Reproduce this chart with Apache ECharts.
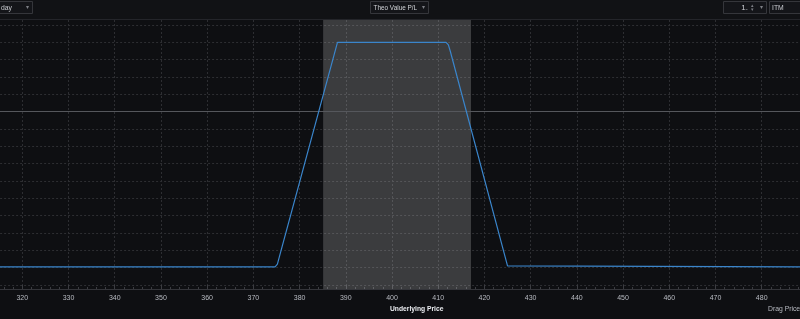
<!DOCTYPE html>
<html>
<head>
<meta charset="utf-8">
<script src="https://cdn.jsdelivr.net/npm/echarts@6/dist/echarts.min.js"></script>
<style>
html,body{margin:0;padding:0;background:#0e0f12;}
#chart{width:800px;height:319px;}
</style>
</head>
<body>
<div id="chart"></div>
<script>
// ---- data ----
var priceX   = [310, 374.7, 375.2, 376.0, 388.2, 411.7, 412.2, 412.6, 425.0, 425.3, 490];
var plValue  = [-895, -895, -880, -800, 400, 400, 385, 350, -890, -895, -895];
var bandRange = [385.1, 417.1];           // shaded (current price range) region
var xTickMin = 310, xTickMax = 490, xTickStep = 10;
var yTickMin = -1000, yTickMax = 500, yTickStep = 100;
var headerLabels = ["day", "Theo Value P/L", "1.", "ITM"];
var axisTitle = "Underlying Price";
var footNote = "Drag Prices";

var lineData = priceX.map(function (x, i) { return [x, plValue[i]]; });

var FONT = '"Liberation Sans", Arial, sans-serif';
var GRID_COLOR = '#2d2e32';

var chart = echarts.init(document.getElementById('chart'), null, {renderer: 'canvas'});

var option = {
  backgroundColor: '#0e0f12',
  animation: false,
  grid: [
    {left: -23.9, right: -7.9, top: 20, bottom: 30, containLabel: false, outerBoundsMode: 'none'},
    {left: -23.9, right: -7.9, top: 25, bottom: 34, containLabel: false, outerBoundsMode: 'none'}
  ],
  xAxis: [
    {
      type: 'value', gridIndex: 0, min: xTickMin, max: xTickMax, interval: xTickStep,
      axisLine: {show: true, lineStyle: {color: '#34353a', width: 1}},
      axisTick: {show: true, length: 4, inside: true, lineStyle: {color: '#3c3d42'}},
      minorTick: {show: true, splitNumber: 5, length: 2, lineStyle: {color: '#3c3d42'}},
      axisLabel: {show: true, color: '#b8bbc2', fontSize: 7, fontFamily: FONT, margin: 6},
      splitLine: {show: true, lineStyle: {color: GRID_COLOR, type: [2, 2], width: 1}}
    },
    {
      type: 'value', gridIndex: 1, min: xTickMin, max: xTickMax, interval: xTickStep,
      show: false
    }
  ],
  yAxis: [
    {type: 'value', gridIndex: 0, min: 0, max: 1, show: false},
    {
      type: 'value', gridIndex: 1, min: yTickMin, max: yTickMax, interval: yTickStep,
      axisLine: {show: false}, axisTick: {show: false}, axisLabel: {show: false},
      splitLine: {show: true, lineStyle: {color: GRID_COLOR, type: [2, 2], width: 1}}
    }
  ],
  series: [
    {
      type: 'line', xAxisIndex: 0, yAxisIndex: 0, data: [], silent: true,
      markArea: {
        silent: true,
        itemStyle: {color: 'rgba(255,255,255,0.19)'},
        data: [[{xAxis: bandRange[0]}, {xAxis: bandRange[1]}]]
      }
    },
    {
      type: 'line', xAxisIndex: 1, yAxisIndex: 1, data: lineData,
      showSymbol: false, smooth: false, z: 5,
      lineStyle: {color: '#3a85cb', width: 1.2},
      markLine: {
        silent: true, symbol: 'none', label: {show: false},
        lineStyle: {color: '#55575c', type: 'solid', width: 1},
        data: [{yAxis: 0}]
      }
    }
  ],
  graphic: [
    // header bar
    {type: 'rect', shape: {x: 0, y: 0, width: 800, height: 19}, style: {fill: '#111215'}, z: 10},
    {type: 'line', shape: {x1: 0, y1: 19.5, x2: 800, y2: 19.5}, style: {stroke: '#24252a', lineWidth: 1}, z: 10},
    // "day" dropdown
    {type: 'rect', shape: {x: -1.5, y: 1.5, width: 34, height: 12}, style: {fill: '#141519', stroke: '#35363b', lineWidth: 1}, z: 11},
    {type: 'text', x: 1, y: 7.5, scaleX: 0.85, style: {text: headerLabels[0], fill: '#c9cbd0', font: '8px ' + FONT, verticalAlign: 'middle'}, z: 12},
    {type: 'text', x: 27, y: 7.5, style: {text: '▾', fill: '#7d7f85', font: '6px ' + FONT, verticalAlign: 'middle', align: 'center'}, z: 12},
    // "Theo Value P/L" dropdown
    {type: 'rect', shape: {x: 370.5, y: 1.5, width: 58, height: 12}, style: {fill: '#141519', stroke: '#35363b', lineWidth: 1}, z: 11},
    {type: 'text', x: 373.5, y: 7.5, scaleX: 0.8, style: {text: headerLabels[1], fill: '#d2d4d8', font: '8px ' + FONT, verticalAlign: 'middle'}, z: 12},
    {type: 'text', x: 423, y: 7.5, style: {text: '▾', fill: '#7d7f85', font: '6px ' + FONT, verticalAlign: 'middle', align: 'center'}, z: 12},
    // spinner
    {type: 'rect', shape: {x: 723.5, y: 1.5, width: 43, height: 12}, style: {fill: '#141519', stroke: '#35363b', lineWidth: 1}, z: 11},
    {type: 'text', x: 748, y: 7.5, style: {text: headerLabels[2], fill: '#c9cbd0', font: '8px ' + FONT, verticalAlign: 'middle', align: 'right'}, z: 12},
    {type: 'text', x: 752.5, y: 5.5, style: {text: '▴', fill: '#7d7f85', font: '5px ' + FONT, verticalAlign: 'middle', align: 'center'}, z: 12},
    {type: 'text', x: 752.5, y: 9.5, style: {text: '▾', fill: '#7d7f85', font: '5px ' + FONT, verticalAlign: 'middle', align: 'center'}, z: 12},
    {type: 'text', x: 761.5, y: 7.5, style: {text: '▾', fill: '#7d7f85', font: '6px ' + FONT, verticalAlign: 'middle', align: 'center'}, z: 12},
    // ITM box
    {type: 'rect', shape: {x: 769.5, y: 1.5, width: 33, height: 12}, style: {fill: '#141519', stroke: '#35363b', lineWidth: 1}, z: 11},
    {type: 'text', x: 772, y: 7.5, scaleX: 0.85, style: {text: headerLabels[3], fill: '#c9cbd0', font: '8px ' + FONT, verticalAlign: 'middle'}, z: 12},
    // axis title and footnote
    {type: 'text', x: 390, y: 309, scaleX: 0.84, style: {text: axisTitle, fill: '#eceef2', font: 'bold 8px ' + FONT, verticalAlign: 'middle', align: 'left'}, z: 12},
    {type: 'text', x: 768, y: 309, scaleX: 0.85, style: {text: footNote, fill: '#b8bbc2', font: '8px ' + FONT, verticalAlign: 'middle'}, z: 12}
  ]
};
chart.setOption(option);
</script>
</body>
</html>
